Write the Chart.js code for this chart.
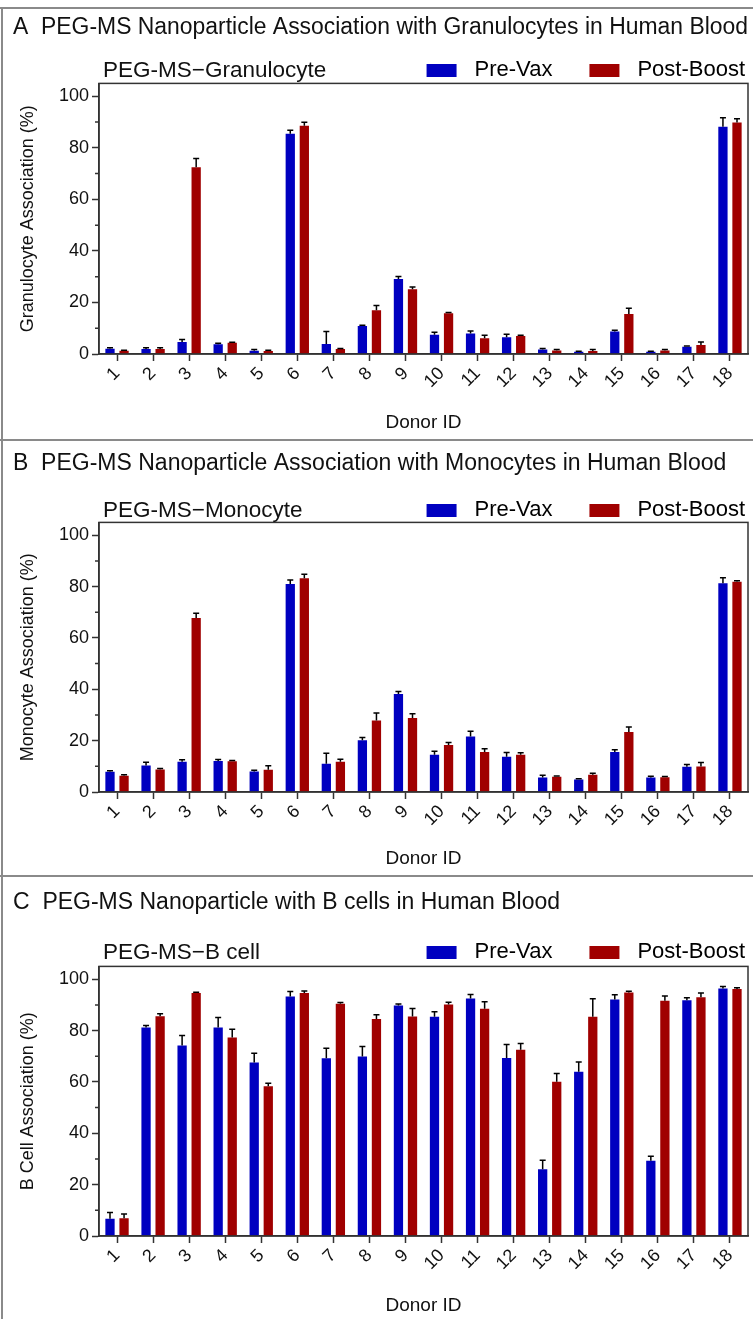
<!DOCTYPE html>
<html>
<head>
<meta charset="utf-8">
<script src="https://cdn.jsdelivr.net/npm/chart.js@4.4.0/dist/chart.umd.min.js"></script>
<style>
  html, body { margin: 0; padding: 0; background: #fff; overflow: hidden; }
  #page { position: relative; width: 753px; height: 1319px; }
  #page canvas { position: absolute; left: 0; }
  .rule { position: absolute; background: #8a8a8a; }
</style>
</head>
<body>
<div id="page">
  <div class="rule" style="left:0;top:7px;width:753px;height:1.5px"></div>
  <div class="rule" style="left:0;top:439px;width:753px;height:1.5px"></div>
  <div class="rule" style="left:0;top:875px;width:753px;height:1.5px"></div>
  <div class="rule" style="left:1px;top:7px;width:1.5px;height:1312px"></div>
  <canvas id="granChart" width="753" height="431" style="top:8px"></canvas>
  <canvas id="monoChart" width="753" height="435" style="top:440px"></canvas>
  <canvas id="bcellChart" width="753" height="443" style="top:876px"></canvas>
</div>
<script>
// donor IDs on the x axis
const donors = ['1', '2', '3', '4', '5', '6', '7', '8', '9', '10', '11', '12', '13', '14', '15', '16', '17', '18'];
const seriesNames = ['Pre-Vax', 'Post-Boost'];
const yTicks = [0, 20, 40, 60, 80, 100];

// A - granulocytes (%), mean and upper error
const granPre = [2.0, 1.9, 4.7, 3.8, 1.3, 85.5, 3.9, 10.9, 29.1, 7.5, 8.0, 6.5, 1.7, 0.9, 8.7, 0.9, 2.8, 88.2];
const granPreErr = [0.4, 0.5, 0.9, 0.4, 0.4, 1.3, 4.8, 0.3, 1.0, 0.9, 0.9, 1.2, 0.4, 0.2, 0.5, 0.2, 0.3, 3.5];
const granPost = [1.3, 1.9, 72.5, 4.4, 1.2, 88.6, 1.9, 17.0, 25.1, 15.8, 6.1, 7.0, 1.4, 1.2, 15.5, 1.4, 3.5, 89.8];
const granPostErr = [0.2, 0.5, 3.4, 0.2, 0.3, 1.3, 0.2, 1.8, 0.9, 0.3, 1.2, 0.3, 0.3, 0.5, 2.3, 0.3, 1.2, 1.5];

// B - monocytes (%)
const monoPre = [7.9, 10.3, 11.8, 12.1, 8.0, 81.0, 11.0, 20.2, 38.2, 14.5, 21.6, 13.7, 5.6, 4.9, 15.6, 5.6, 9.8, 81.3];
const monoPreErr = [0.4, 1.3, 0.8, 0.6, 0.5, 1.6, 4.1, 1.0, 0.9, 1.4, 2.1, 1.7, 0.9, 0.3, 0.9, 0.5, 0.9, 2.1];
const monoPost = [6.3, 8.8, 67.8, 12.0, 8.7, 83.2, 11.8, 27.8, 28.8, 18.3, 15.6, 14.5, 5.9, 6.7, 23.4, 5.7, 9.9, 81.9];
const monoPostErr = [0.4, 0.4, 1.8, 0.3, 1.5, 1.6, 1.0, 3.0, 1.7, 1.0, 1.2, 0.8, 0.3, 0.6, 1.9, 0.3, 1.6, 0.4];

// C - B cells (%)
const bcellPre = [6.7, 81.2, 74.2, 81.2, 67.6, 93.3, 69.2, 69.9, 89.8, 85.4, 92.5, 69.3, 26.0, 64.0, 92.1, 29.3, 91.8, 96.4];
const bcellPreErr = [2.5, 0.8, 3.9, 3.9, 3.6, 1.9, 3.9, 3.9, 0.6, 1.9, 1.6, 5.3, 3.5, 3.8, 1.9, 1.8, 1.0, 0.8];
const bcellPost = [6.9, 85.6, 94.6, 77.3, 58.3, 94.6, 90.5, 84.5, 85.5, 90.2, 88.5, 72.5, 60.1, 85.4, 94.8, 91.6, 93.0, 96.2];
const bcellPostErr = [1.7, 1.0, 0.3, 3.2, 1.2, 0.8, 0.4, 1.7, 3.1, 0.8, 2.7, 2.5, 3.2, 7.0, 0.5, 1.9, 1.6, 0.5];

const BLUE = '#0000c0';
const RED = '#a00000';
const INK = '#111';
const AXIS = '#333';

Chart.defaults.font.family = "'Liberation Sans', Arial, sans-serif";

// legend swatch: transparent lead-in, 30x13 box, small gap before the text
function swatch(color) {
  const c = document.createElement('canvas');
  c.width = 71; c.height = 13;
  const g = c.getContext('2d');
  g.fillStyle = color;
  g.fillRect(34, 0, 30, 13);
  return c;
}
const swatches = [swatch(BLUE), swatch(RED)];

// upper error bars with caps
const errorBars = {
  id: 'errorBars',
  afterDatasetsDraw(chart) {
    const ctx = chart.ctx;
    const y = chart.scales.y;
    ctx.save();
    ctx.strokeStyle = '#000';
    ctx.lineWidth = 1.5;
    chart.data.datasets.forEach((ds, i) => {
      chart.getDatasetMeta(i).data.forEach((bar, j) => {
        const top = y.getPixelForValue(ds.data[j] + ds.errors[j]);
        ctx.beginPath();
        ctx.moveTo(bar.x, bar.y);
        ctx.lineTo(bar.x, top);
        ctx.moveTo(bar.x - 3, top);
        ctx.lineTo(bar.x + 3, top);
        ctx.stroke();
      });
    });
    ctx.restore();
  }
};

// closed plot box + minor y ticks
const plotFrame = {
  id: 'plotFrame',
  afterDatasetsDraw(chart) {
    const {ctx, chartArea: a} = chart;
    const y = chart.scales.y;
    ctx.save();
    ctx.strokeStyle = AXIS;
    ctx.lineWidth = 1.5;
    ctx.strokeRect(a.left, a.top, a.right - a.left, a.bottom - a.top);
    ctx.beginPath();
    for (let v = 10; v < 100; v += 20) {
      const py = y.getPixelForValue(v);
      ctx.moveTo(a.left - 4, py);
      ctx.lineTo(a.left, py);
    }
    ctx.stroke();
    ctx.restore();
  }
};

// small label at the left of the legend row
const subLabel = {
  id: 'subLabel',
  afterDraw(chart, args, opts) {
    const ctx = chart.ctx;
    const lg = chart.legend;
    ctx.save();
    ctx.fillStyle = INK;
    ctx.font = "22.5px 'Liberation Sans', Arial, sans-serif";
    ctx.textBaseline = 'middle';
    ctx.textAlign = 'left';
    ctx.fillText(opts.text, chart.chartArea.left + 4, lg.top + 3 + 11);
    ctx.restore();
  }
};

function makeChart(id, panelTitle, label, yTitle, pre, preErr, post, postErr, lay) {
  return new Chart(document.getElementById(id), {
    type: 'bar',
    data: {
      labels: donors,
      datasets: [
        {label: seriesNames[0], data: pre, errors: preErr, backgroundColor: BLUE},
        {label: seriesNames[1], data: post, errors: postErr, backgroundColor: RED}
      ]
    },
    options: {
      responsive: false,
      animation: false,
      categoryPercentage: 0.78,
      barPercentage: 0.66,
      layout: {padding: {left: 13, right: 5, top: 0, bottom: 0}},
      scales: {
        x: {
          afterFit: s => { s.height = lay.xHeight; },
          ticks: {minRotation: 45, maxRotation: 45, autoSkip: false, padding: 2, color: INK, font: {size: 18}},
          grid: {offset: false, drawOnChartArea: false, tickLength: 7, tickWidth: 1.5, tickColor: AXIS},
          border: {color: AXIS, width: 1.5},
          title: {display: true, text: 'Donor ID', color: INK, font: {size: 19}, padding: {top: 0, bottom: lay.xTitlePad}}
        },
        y: {
          min: 0,
          max: 105,
          afterFit: s => { s.width = 86; },
          afterBuildTicks: s => { s.ticks = yTicks.map(v => ({value: v})); },
          ticks: {padding: 3, color: INK, font: {size: 18}},
          grid: {drawOnChartArea: false, tickLength: 7, tickWidth: 1.5, tickColor: AXIS},
          border: {color: AXIS, width: 1.5},
          title: {display: true, text: yTitle, color: INK, font: {size: 18}, padding: {top: 4, bottom: 0}}
        }
      },
      plugins: {
        title: {
          display: true,
          text: panelTitle,
          align: 'start',
          color: INK,
          font: {size: 23, weight: 'normal'},
          padding: {top: lay.titleTop, bottom: lay.titleBottom}
        },
        legend: {
          position: 'top',
          align: 'end',
          maxHeight: lay.legendHeight,
          labels: {
            usePointStyle: true,
            pointStyleWidth: 71,
            boxHeight: 13,
            padding: 3,
            color: INK,
            font: {size: 22},
            generateLabels: chart => chart.data.datasets.map((ds, i) => ({
              text: ds.label,
              pointStyle: swatches[i],
              fillStyle: ds.backgroundColor,
              strokeStyle: ds.backgroundColor,
              lineWidth: 0,
              hidden: false,
              datasetIndex: i
            }))
          }
        },
        tooltip: {enabled: false},
        subLabel: {text: label}
      }
    },
    plugins: [errorBars, plotFrame, subLabel]
  });
}

makeChart('granChart', 'A  PEG-MS Nanoparticle Association with Granulocytes in Human Blood',
  'PEG-MS\u2212Granulocyte', 'Granulocyte Association (%)',
  granPre, granPreErr, granPost, granPostErr,
  {titleTop: 5.4, titleBottom: 15.4, legendHeight: 27, xHeight: 85, xTitlePad: 5});

makeChart('monoChart', 'B  PEG-MS Nanoparticle Association with Monocytes in Human Blood',
  'PEG-MS\u2212Monocyte', 'Monocyte Association (%)',
  monoPre, monoPreErr, monoPost, monoPostErr,
  {titleTop: 9.4, titleBottom: 19.4, legendHeight: 26, xHeight: 83, xTitlePad: 5});

makeChart('bcellChart', 'C  PEG-MS Nanoparticle with B cells in Human Blood',
  'PEG-MS\u2212B cell', 'B Cell Association (%)',
  bcellPre, bcellPreErr, bcellPost, bcellPostErr,
  {titleTop: 12.4, titleBottom: 22.4, legendHeight: 28, xHeight: 83, xTitlePad: 2});
</script>
</body>
</html>
